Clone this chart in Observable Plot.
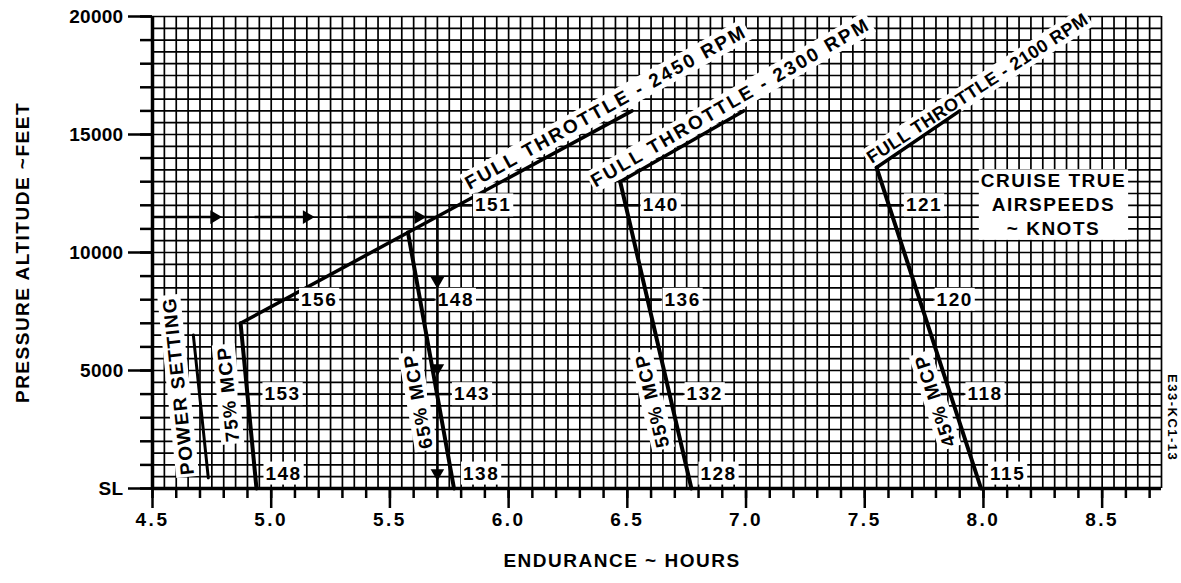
<!DOCTYPE html>
<html>
<head>
<meta charset="utf-8">
<script src="https://cdn.jsdelivr.net/npm/d3@7"></script>
<script src="https://cdn.jsdelivr.net/npm/@observablehq/plot@0.6"></script>
<style>
  html, body { margin: 0; padding: 0; background: #fff; }
  #chart svg { display: block; }
  #chart svg text { letter-spacing: 1.5px; }
  #chart svg g[aria-label="y-axis tick label"] text { letter-spacing: 0.3px; }
  #chart svg g[aria-label="x-axis tick label"] text { letter-spacing: 2.5px; }
  #chart svg g[aria-description~="tight"] text { letter-spacing: 0.5px; }
  #chart svg g[aria-description~="wide"] text { letter-spacing: 2.4px; }
</style>
</head>
<body>
<div id="chart"></div>
<script>
// ---- Data ----
const xDomain = [4.5, 8.75];
const yDomain = [0, 20000];
const xMajorTicks = [4.5, 5.0, 5.5, 6.0, 6.5, 7.0, 7.5, 8.0, 8.5];
const xMinorTicks = d3.range(45, 88).map(d => d / 10);
const yMajorTicks = [0, 5000, 10000, 15000, 20000];
const yMinorTicks = d3.range(0, 21).map(d => d * 1000);
const gridX = d3.range(90, 176).map(d => d / 20);
const gridY = d3.range(0, 41).map(d => d * 500);

// curves: endurance (hours) vs pressure altitude (ft)
const powerSettingLine = [{x: 4.672, y: 6500}, {x: 4.735, y: 450}];
const mcp75 = [{x: 4.871, y: 7000}, {x: 4.938, y: 0}];
const fullThrottle2450 = [{x: 4.871, y: 7000}, {x: 6.52, y: 16000}];
const mcp65 = [{x: 5.576, y: 10850}, {x: 5.77, y: 0}];
const fullThrottle2300 = [{x: 6.99, y: 16000}, {x: 6.47, y: 13000}];
const mcp55 = [{x: 6.47, y: 13000}, {x: 6.77, y: 0}];
const fullThrottle2100 = [{x: 7.90, y: 16000}, {x: 7.55, y: 13600}];
const mcp45 = [{x: 7.55, y: 13600}, {x: 7.99, y: 0}];

// cruise true airspeeds (knots) marked on the curves
const speedLabels = [
  {x: 4.900, y: 4000, t: "153"}, {x: 4.938, y: 0, t: "148"},
  {x: 5.054, y: 8000, t: "156"}, {x: 5.787, y: 12000, t: "151"},
  {x: 5.630, y: 8000, t: "148"}, {x: 5.698, y: 4000, t: "143"}, {x: 5.770, y: 0, t: "138"},
  {x: 6.493, y: 12000, t: "140"}, {x: 6.585, y: 8000, t: "136"}, {x: 6.678, y: 4000, t: "132"}, {x: 6.770, y: 0, t: "128"},
  {x: 7.602, y: 12000, t: "121"}, {x: 7.731, y: 8000, t: "120"}, {x: 7.861, y: 4000, t: "118"}, {x: 7.990, y: 0, t: "115"}
];

// curve names
const curveLabels = [
  {x: 4.61, y: 4350, t: "POWER SETTING", r: -96},
  {x: 4.82, y: 4000, t: "75% MCP", r: -95.5},
  {x: 5.62, y: 3700, t: "65% MCP", r: -100},
  {x: 6.606, y: 3730, t: "55% MCP", r: -103.4},
  {x: 7.798, y: 3730, t: "45% MCP", r: -108}
];
const curveLabelsWide = [
  {x: 6.41, y: 16150, t: "FULL THROTTLE - 2450 RPM", r: -29},
  {x: 6.935, y: 16350, t: "FULL THROTTLE - 2300 RPM", r: -30}
];
const curveLabelsTight = [
  {x: 7.975, y: 16950, t: "FULL THROTTLE - 2100 RPM", r: -33}
];
const noteText = [{x: 8.295, y: 12076, t: "CRUISE TRUE\nAIRSPEEDS\n~ KNOTS"}];
const figureCode = [{y: 3000, t: "E33-KC1-13"}];

// example path (arrows)
const exampleShafts = [
  {x1: 4.50, y1: 11500, x2: 4.78, y2: 11500},
  {x1: 4.93, y1: 11500, x2: 5.17, y2: 11500},
  {x1: 5.32, y1: 11500, x2: 5.70, y2: 11500},
  {x1: 5.70, y1: 11500, x2: 5.70, y2: 0}
];
const exampleHeads = [
  {x: 4.76, y: 11500, rot: 90}, {x: 5.15, y: 11500, rot: 90}, {x: 5.62, y: 11500, rot: 90},
  {x: 5.70, y: 8800, rot: 180}, {x: 5.70, y: 5100, rot: 180}, {x: 5.70, y: 650, rot: 180}
];

const xLabel = "ENDURANCE ~ HOURS";
const yLabel = "PRESSURE ALTITUDE ~FEET";

const curves = [powerSettingLine, mcp75, fullThrottle2450, mcp65, fullThrottle2300, mcp55, fullThrottle2100, mcp45];
const curveWidths = [3, 4, 3.5, 4, 3.5, 4, 3.5, 4];

const FONT = "'Liberation Sans', Arial, Helvetica, sans-serif";

const chart = Plot.plot({
  width: 1181,
  height: 583,
  marginLeft: 152,
  marginRight: 20,
  marginTop: 16,
  marginBottom: 95,
  style: {fontFamily: FONT, fontSize: "19px", fontWeight: "bold", color: "black", background: "white"},
  x: {domain: xDomain, axis: null},
  y: {domain: yDomain, axis: null},
  marks: [
    Plot.ruleX(gridX, {stroke: "black", strokeWidth: 1.7}),
    Plot.ruleY(gridY, {stroke: "black", strokeWidth: 1.7}),
    Plot.ruleX([xDomain[0]], {stroke: "black", strokeWidth: 3.5}),
    Plot.ruleY([yDomain[0]], {stroke: "black", strokeWidth: 3.5}),
    Plot.axisX({ticks: xMinorTicks, tickSize: 10, strokeWidth: 2.5, tickFormat: () => "", label: null}),
    Plot.axisX({ticks: xMajorTicks, tickSize: 20, tickPadding: 4, strokeWidth: 2.5, tickFormat: d3.format(".1f"), label: null, fontSize: 19}),
    Plot.axisY({ticks: yMinorTicks, tickSize: 12, strokeWidth: 2.5, tickFormat: () => "", label: null}),
    Plot.axisY({ticks: yMajorTicks, tickSize: 24, tickPadding: 5, strokeWidth: 2.5, tickFormat: d => d === 0 ? "SL" : String(d), label: null, fontSize: 19}),
    Plot.text([xLabel], {text: d => d, frameAnchor: "bottom", textAnchor: "middle", dy: 78, dx: -35, fontSize: 19}),
    Plot.text([yLabel], {text: d => d, frameAnchor: "left", textAnchor: "middle", dx: -130, rotate: -90, fontSize: 19}),
    Plot.text(figureCode, {y: "y", text: "t", frameAnchor: "right", textAnchor: "middle", dx: 11, rotate: 90, fontSize: 13}),
    Plot.text(curveLabels, {x: "x", y: "y", text: "t", rotate: "r", fontSize: 19, ariaDescription: "boxed"}),
    Plot.text(curveLabelsWide, {x: "x", y: "y", text: "t", rotate: "r", fontSize: 19, ariaDescription: "boxed wide"}),
    Plot.text(curveLabelsTight, {x: "x", y: "y", text: "t", rotate: "r", fontSize: 18, ariaDescription: "boxed tight"}),
    Plot.text(noteText, {x: "x", y: "y", text: "t", fontSize: 19, lineHeight: 1.25, ariaDescription: "boxed"}),
    ...curves.map((c, i) => Plot.line(c, {x: "x", y: "y", stroke: "black", strokeWidth: curveWidths[i]})),
    Plot.link(speedLabels.filter(d => d.y > 0), {x1: d => d.x - 0.042, x2: d => d.x + 0.058, y1: "y", y2: "y", stroke: "black", strokeWidth: 2.5}),
    Plot.text(speedLabels.filter(d => d.y > 0), {x: "x", y: "y", text: "t", textAnchor: "start", dx: 17, fontSize: 19, ariaDescription: "boxed"}),
    Plot.text(speedLabels.filter(d => d.y === 0), {x: "x", y: "y", text: "t", textAnchor: "start", dx: 9, dy: -15, fontSize: 19, ariaDescription: "boxed"}),
    Plot.link(exampleShafts, {x1: "x1", y1: "y1", x2: "x2", y2: "y2", stroke: "black", strokeWidth: 2.5}),
    Plot.dot(exampleHeads, {x: "x", y: "y", rotate: "rot", symbol: "triangle2", r: 6.5, fill: "black", stroke: "none"})
  ]
});

document.getElementById("chart").appendChild(chart);

// white label boxes behind the texts
const pad = 2;
chart.querySelectorAll('g[aria-description~="boxed"] text').forEach(t => {
  const b = t.getBBox();
  const r = document.createElementNS("http://www.w3.org/2000/svg", "rect");
  r.setAttribute("x", b.x - pad);
  r.setAttribute("y", b.y - pad + 1);
  r.setAttribute("width", b.width + 2 * pad);
  r.setAttribute("height", b.height + 2 * pad - 2);
  r.setAttribute("fill", "white");
  const tr = t.getAttribute("transform");
  if (tr) r.setAttribute("transform", tr);
  t.parentNode.insertBefore(r, t);
});
</script>
</body>
</html>
